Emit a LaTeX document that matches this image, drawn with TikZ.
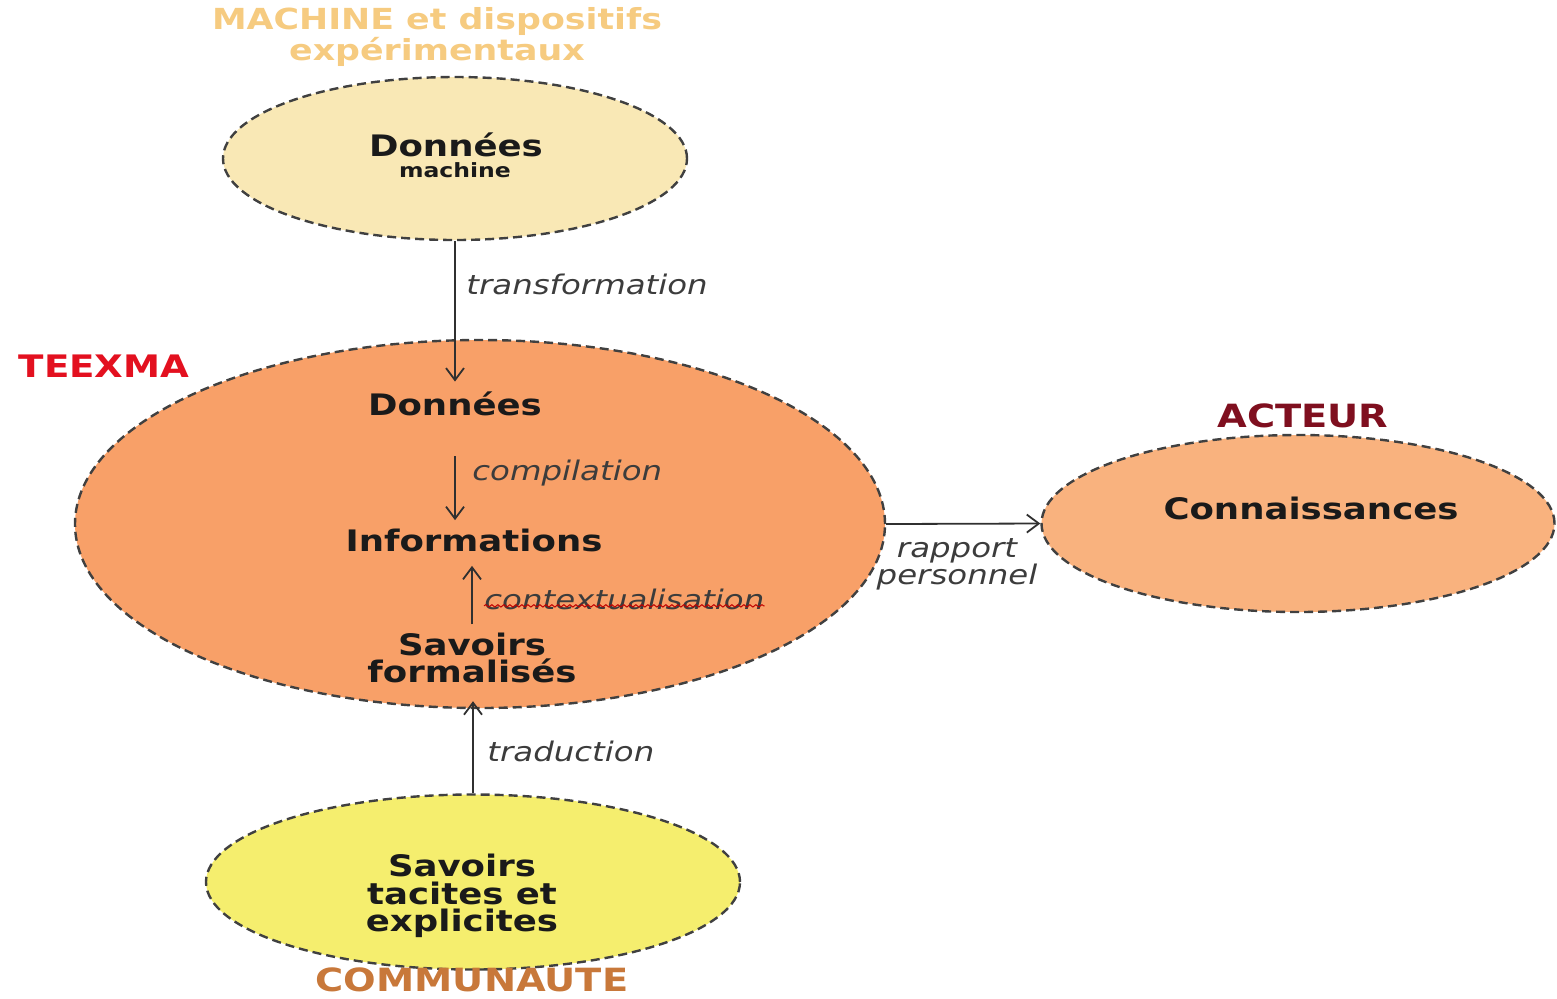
\documentclass[tikz,border=0pt]{standalone}
\usepackage{fontspec}
\setmainfont{DejaVu Sans}[FakeStretch=1.2]
\usetikzlibrary{shapes.geometric,arrows.meta,decorations.pathmorphing,calc}
\definecolor{cTop}{HTML}{F9E8B5}
\definecolor{cBig}{HTML}{F8A068}
\definecolor{cRight}{HTML}{F9B27E}
\definecolor{cBot}{HTML}{F5EE6E}
\definecolor{cMach}{HTML}{F6CB80}
\definecolor{cTeex}{HTML}{E3101F}
\definecolor{cAct}{HTML}{7F0F1F}
\definecolor{cComm}{HTML}{C8783A}
\definecolor{cBorder}{HTML}{404040}
\definecolor{cTxt}{HTML}{1A1A1A}
\definecolor{cArr}{HTML}{303030}
\tikzset{
  ell/.style={ellipse, draw=cBorder, line width=1.2pt, dash pattern=on 4.5pt off 2.5pt, inner sep=0pt},
  lbl/.style={font=\bfseries\fontsize{14.8}{13.8}\selectfont, text=cTxt, align=center, inner sep=0pt},
  ttl/.style={font=\bfseries\fontsize{14.5}{14}\selectfont, align=center, inner sep=0pt},
  bigttl/.style={font=\bfseries\fontsize{16}{16}\selectfont, align=center, inner sep=0pt},
  itl/.style={font=\itshape\fontsize{13.5}{13.5}\selectfont, text=cTxt!85, inner sep=0pt, align=center},
  arr/.style={draw=cArr, line width=0.9pt, -{Straight Barb[length=6pt,width=9pt]}}
}
\begin{document}
\begin{tikzpicture}[x=0.5pt,y=-0.5pt]
\useasboundingbox (0,0) rectangle (1557,998);
% ellipses
\node[ell, fill=cTop, minimum width=232pt, minimum height=81.5pt] (top) at (455,158.5) {};
\node[ell, fill=cBig, minimum width=405pt, minimum height=184pt] (big) at (480,524) {};
\node[ell, fill=cRight, minimum width=256.5pt, minimum height=88.5pt] (right) at (1298,523.5) {};
\node[ell, fill=cBot, minimum width=267pt, minimum height=87.5pt] (bot) at (473,882) {};
% titles
\node[ttl, text=cMach] (mach) at (437,37) {MACHINE et dispositifs\\expérimentaux};
\node[ttl, text=cTeex, font=\bfseries\fontsize{15.5}{15}\selectfont] (teex) at (104,366) {TEEXMA};
\node[bigttl, text=cAct] (act) at (1303,416) {ACTEUR};
\node[bigttl, text=cComm] (comm) at (472,980) {COMMUNAUTE};
% labels
\node[lbl] (dm) at (456,145) {Données};
\node[lbl, font=\bfseries\fontsize{9.8}{9.8}\selectfont] (dmm) at (455,170) {machine};
\node[lbl] (d) at (455,404) {Données};
\node[lbl] (info) at (474,540) {Informations};
\node[lbl] (sf) at (472,658) {Savoirs\\formalisés};
\node[lbl] (st) at (462,896) {Savoirs\\tacites et\\explicites};
\node[lbl] (con) at (1311,508) {Connaissances};
% arrows
\draw[arr] (top.south) -- ($(top.south |- d.north)+(0,-10)$);
\draw[arr] ($(d.south)+(0,40)$) -- ($(d.south |- info.north)+(0,-8)$);
\draw[arr] ($(sf.north)+(0,-8)$) -- ($(sf.north |- info.south)+(0,14)$);
\draw[arr] (bot.north) -- ($(bot.north |- big.south)+(0,-8)$);
\draw[arr] (big.east) -- (right.west);
% arrow labels
\node[itl, anchor=west] (ltr) at (466,284) {transformation};
\node[itl, anchor=west] (lco) at (472,473) {compilation};
\node[itl, anchor=west] (lcx) at (484,599) {contextualisation};
\node[itl, anchor=west] (ltd) at (487,751) {traduction};
\node[itl] (lrp) at (957,564) {rapport\\personnel};
\draw[red!75!black, line width=0.5pt, decorate, decoration={snake, amplitude=0.6pt, segment length=3pt}]
  ($(lcx.south west)+(0,-4)$) -- ($(lcx.south east)+(0,-4)$);
\end{tikzpicture}
\end{document}
